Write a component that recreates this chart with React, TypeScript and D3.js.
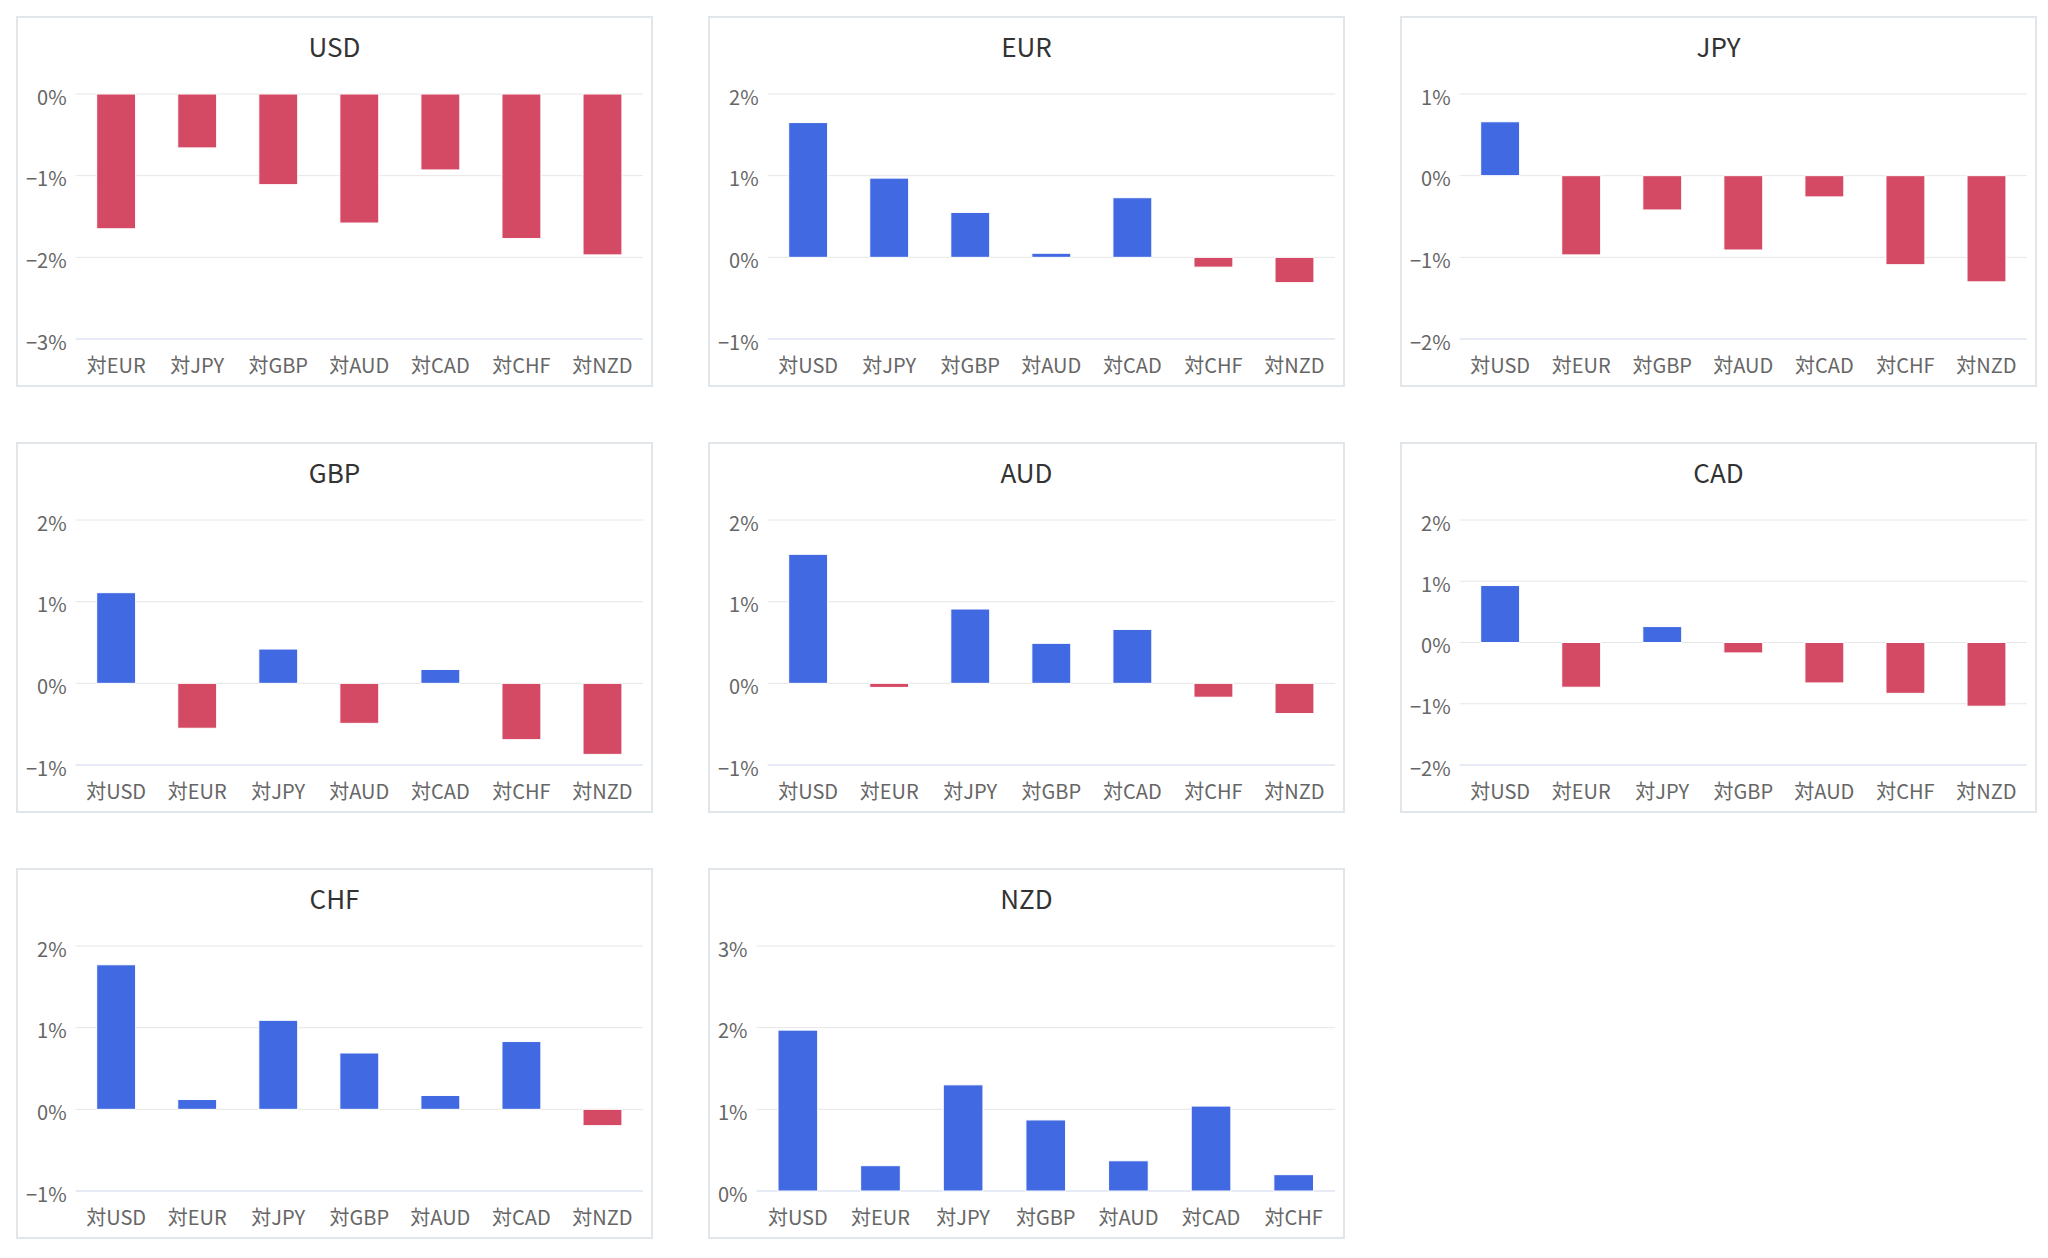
import React from 'react';
import * as d3 from 'd3';

// ---- data ----
const currencies = ['USD', 'EUR', 'JPY', 'GBP', 'AUD', 'CAD', 'CHF', 'NZD'];

const usdValues = [-1.65, -0.66, -1.11, -1.58, -0.93, -1.77, -1.97];
const eurValues = [1.65, 0.97, 0.55, 0.05, 0.73, -0.12, -0.31];
const jpyValues = [0.66, -0.97, -0.42, -0.91, -0.26, -1.09, -1.30];
const gbpValues = [1.11, -0.55, 0.42, -0.49, 0.17, -0.69, -0.87];
const audValues = [1.58, -0.05, 0.91, 0.49, 0.66, -0.17, -0.37];
const cadValues = [0.93, -0.73, 0.26, -0.17, -0.66, -0.83, -1.04];
const chfValues = [1.77, 0.12, 1.09, 0.69, 0.17, 0.83, -0.20];
const nzdValues = [1.97, 0.31, 1.30, 0.87, 0.37, 1.04, 0.20];

const seriesValues = [usdValues, eurValues, jpyValues, gbpValues, audValues, cadValues, chfValues, nzdValues];

// y-axis extents (percent) per panel, as shown by the tick labels
const axisMin = [-3, -1, -2, -1, -1, -2, -1, 0];
const axisMax = [0, 2, 1, 2, 2, 2, 2, 3];

// ---- styles ----
const POS_COLOR = '#4169e1';
const NEG_COLOR = '#d44a64';
const FONT = '"Noto Sans CJK JP", "Noto Sans", sans-serif';
const LABEL_SIZE = 20;
const TITLE_SIZE = 26;

const PANEL_W = 635;
const PANEL_H = 369;
const COL_X = [17, 709, 1401];
const ROW_Y = [17, 443, 869];

let canvas: HTMLCanvasElement | null = null;
function measure(text: string, size: number): number {
  if (typeof document === 'undefined') return text.length * size * 0.55;
  if (!canvas) canvas = document.createElement('canvas');
  const ctx = canvas.getContext('2d');
  if (!ctx) return text.length * size * 0.55;
  ctx.font = `${size}px ${FONT}`;
  return ctx.measureText(text).width;
}

function fmt(v: number): string {
  return (v < 0 ? '\u2212' + Math.abs(v) : String(v)) + '%';
}

function Panel({ idx }: { idx: number }) {
  const px = COL_X[idx % 3];
  const py = ROW_Y[Math.floor(idx / 3)];
  const name = currencies[idx];
  const cats = currencies.filter((c) => c !== name).map((c) => '対' + c);
  const values = seriesValues[idx];
  const ticks = d3.range(axisMin[idx], axisMax[idx] + 1, 1);
  const labelW = Math.max(...ticks.map((t) => measure(fmt(t), LABEL_SIZE)));

  const left = px + 9 + labelW + 9;
  const right = px + 626;
  const top = py + 77;
  const bottom = py + 322;

  const x = d3.scaleBand<string>().domain(cats).range([left, right]).paddingInner(0).paddingOuter(0);
  const y = d3.scaleLinear().domain([axisMin[idx], axisMax[idx]]).range([bottom, top]);
  const bw = x.bandwidth() * 0.48;

  return (
    <g>
      <rect x={px} y={py} width={PANEL_W} height={PANEL_H} fill="#ffffff" stroke="#e0e6ea" strokeWidth={2} />
      <text
        x={px + PANEL_W / 2}
        y={py + 40}
        textAnchor="middle"
        fontFamily={FONT}
        fontSize={TITLE_SIZE}
        fill="#333333"
      >
        {name}
      </text>
      {ticks.map((t) => (
        <g key={t}>
          {t !== axisMin[idx] && (
            <line x1={left} x2={right} y1={y(t)} y2={y(t)} stroke="#e6e6e6" strokeWidth={1} />
          )}
          <text
            x={left - 9}
            y={y(t) + 2}
            textAnchor="end"
            dominantBaseline="central"
            fontFamily={FONT}
            fontSize={LABEL_SIZE}
            fill="#666666"
          >
            {fmt(t)}
          </text>
        </g>
      ))}
      <line x1={left} x2={right} y1={bottom} y2={bottom} stroke="#ccd6eb" strokeWidth={1} />
      {values.map((v, i) => {
        const c = cats[i];
        const y0 = y(0);
        const yv = y(v);
        return (
          <rect
            key={c}
            x={(x(c) as number) + (x.bandwidth() - bw) / 2}
            y={Math.min(y0, yv)}
            width={bw}
            height={Math.abs(yv - y0)}
            fill={v >= 0 ? POS_COLOR : NEG_COLOR}
            stroke="#ffffff"
            strokeWidth={1}
          />
        );
      })}
      {cats.map((c) => (
        <text
          key={c}
          x={(x(c) as number) + x.bandwidth() / 2}
          y={bottom + 25}
          textAnchor="middle"
          dominantBaseline="central"
          fontFamily={FONT}
          fontSize={LABEL_SIZE}
          fill="#666666"
        >
          {c}
        </text>
      ))}
    </g>
  );
}

export default function App() {
  return (
    <svg
      width={2048}
      height={1258}
      style={{ position: 'absolute', left: 0, top: 0, background: '#ffffff' }}
    >
      {currencies.map((c, i) => (
        <Panel key={c} idx={i} />
      ))}
    </svg>
  );
}
